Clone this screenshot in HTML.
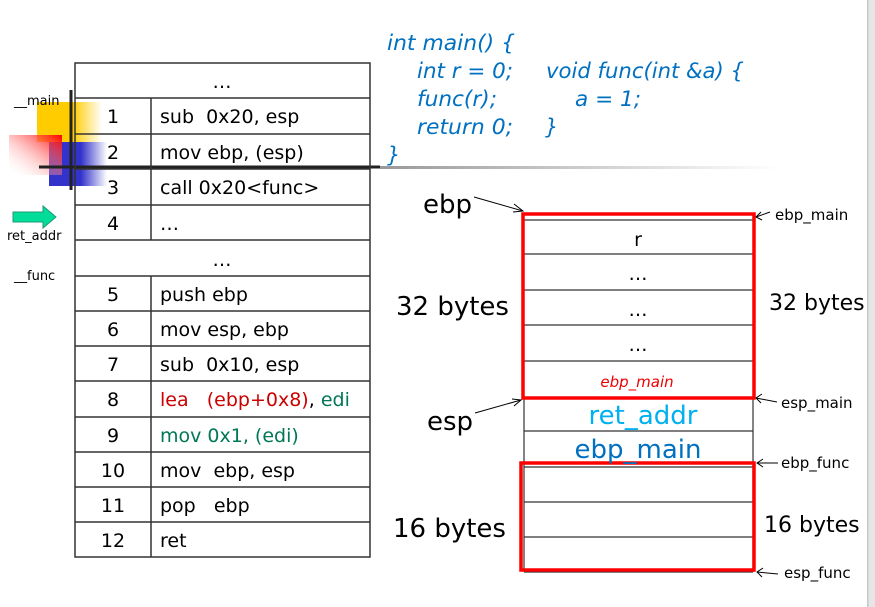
<!DOCTYPE html>
<html><head><meta charset="utf-8"><style>
html,body{margin:0;padding:0;background:#fff;}
svg{display:block;font-family:"DejaVu Sans","Liberation Sans",sans-serif;}
</style></head><body>
<svg width="875" height="607" viewBox="0 0 875 607" xmlns="http://www.w3.org/2000/svg">
<defs>
<linearGradient id="gy" x1="0" x2="1" y1="0" y2="0"><stop offset="0.55" stop-color="#ffcc00"/><stop offset="1" stop-color="#ffcc00" stop-opacity="0"/></linearGradient>
<linearGradient id="gb" x1="0" x2="1" y1="0" y2="0"><stop offset="0.55" stop-color="#3333cc"/><stop offset="1" stop-color="#3333cc" stop-opacity="0"/></linearGradient>
<linearGradient id="gr" x1="1" x2="0" y1="0" y2="1"><stop offset="0" stop-color="#ff0000"/><stop offset="1" stop-color="#ffffff" stop-opacity="0"/></linearGradient>
<linearGradient id="gl" x1="0" x2="1" y1="0" y2="0"><stop offset="0" stop-color="#999"/><stop offset="1" stop-color="#fff"/></linearGradient>
</defs>
<rect x="867" y="0" width="8" height="607" fill="#e6e6e6"/>
<rect x="867" y="0" width="1.5" height="607" fill="#c8c8c8"/>
<rect x="37" y="102" width="65" height="40" fill="url(#gy)"/>
<rect x="49" y="142" width="58" height="44" fill="url(#gb)"/>
<rect x="9" y="135" width="53" height="40" fill="url(#gr)"/>
<rect x="380" y="166" width="400" height="3" fill="url(#gl)"/>
<line x1="39" y1="167" x2="380" y2="167" stroke="#222" stroke-width="3"/>
<line x1="71" y1="90" x2="71" y2="190" stroke="#222" stroke-width="3"/>
<text x="14" y="105" font-size="13">__main</text>
<text x="7" y="240" font-size="13">ret_addr</text>
<text x="14" y="280" font-size="13">__func</text>
<polygon points="13,212 43,212 43,206 56,217 43,228 43,222 13,222" fill="#00dd99" stroke="#229977" stroke-width="1"/>
<g stroke="#333" stroke-width="1.5" fill="none">
<rect x="75" y="63" width="295" height="494"/>
<line x1="151" y1="98" x2="151" y2="240"/>
<line x1="151" y1="276" x2="151" y2="557"/>
<line x1="75" y1="98" x2="370" y2="98"/><line x1="75" y1="134" x2="370" y2="134"/>
<line x1="75" y1="169" x2="370" y2="169"/><line x1="75" y1="205" x2="370" y2="205"/>
<line x1="75" y1="240" x2="370" y2="240"/><line x1="75" y1="276" x2="370" y2="276"/>
<line x1="75" y1="311" x2="370" y2="311"/><line x1="75" y1="346" x2="370" y2="346"/>
<line x1="75" y1="381" x2="370" y2="381"/><line x1="75" y1="417" x2="370" y2="417"/>
<line x1="75" y1="452" x2="370" y2="452"/><line x1="75" y1="487" x2="370" y2="487"/>
<line x1="75" y1="522" x2="370" y2="522"/>
</g>
<g font-size="19" fill="#000">
<text x="222" y="88" text-anchor="middle">…</text>
<text x="222" y="266" text-anchor="middle">…</text>
<g text-anchor="middle">
<text x="113" y="123">1</text><text x="113" y="159">2</text><text x="113" y="194">3</text><text x="113" y="230">4</text>
<text x="113" y="301">5</text><text x="113" y="336">6</text><text x="113" y="371">7</text><text x="113" y="406">8</text>
<text x="113" y="442">9</text><text x="113" y="477">10</text><text x="113" y="512">11</text><text x="113" y="547">12</text>
</g>
<text x="160" y="123" xml:space="preserve">sub  0x20, esp</text>
<text x="160" y="159">mov ebp, (esp)</text>
<text x="160" y="194">call 0x20&lt;func&gt;</text>
<text x="160" y="230">…</text>
<text x="160" y="301">push ebp</text>
<text x="160" y="336">mov esp, ebp</text>
<text x="160" y="371" xml:space="preserve">sub  0x10, esp</text>
<text x="160" y="406" xml:space="preserve"><tspan fill="#cc0000">lea   (ebp+0x8)</tspan>, <tspan fill="#007755">edi</tspan></text>
<text x="160" y="442" fill="#007755">mov 0x1, (edi)</text>
<text x="160" y="477" xml:space="preserve">mov  ebp, esp</text>
<text x="160" y="512" xml:space="preserve">pop   ebp</text>
<text x="160" y="547">ret</text>
</g>
<g font-size="21" font-style="italic" fill="#0070c0">
<text x="387" y="50" textLength="128" lengthAdjust="spacingAndGlyphs">int main() {</text>
<text x="417" y="78" textLength="96" lengthAdjust="spacingAndGlyphs">int r = 0;</text>
<text x="546" y="78" textLength="198" lengthAdjust="spacingAndGlyphs">void func(int &amp;a) {</text>
<text x="417" y="106" textLength="80" lengthAdjust="spacingAndGlyphs">func(r);</text>
<text x="575" y="106" textLength="66" lengthAdjust="spacingAndGlyphs">a = 1;</text>
<text x="417" y="134" textLength="96" lengthAdjust="spacingAndGlyphs">return 0;</text>
<text x="545" y="134">}</text>
<text x="387" y="162">}</text>
</g>
<g stroke="#333" stroke-width="1.2" fill="none">
<line x1="524" y1="220" x2="753" y2="220"/><line x1="524" y1="254" x2="753" y2="254"/>
<line x1="524" y1="290" x2="753" y2="290"/><line x1="524" y1="325" x2="753" y2="325"/>
<line x1="524" y1="361" x2="753" y2="361"/>
<line x1="524" y1="397" x2="524" y2="572"/><line x1="753" y1="397" x2="753" y2="572"/>
<line x1="524" y1="431" x2="753" y2="431"/><line x1="524" y1="467" x2="753" y2="467"/>
<line x1="524" y1="502" x2="753" y2="502"/><line x1="524" y1="537" x2="753" y2="537"/>
<line x1="524" y1="572" x2="753" y2="572"/>
</g>
<rect x="523" y="214" width="231" height="184" fill="none" stroke="#ff0000" stroke-width="3.5"/>
<rect x="521" y="463" width="233" height="107" fill="none" stroke="#ff0000" stroke-width="3.5"/>
<g font-size="19" text-anchor="middle">
<text x="638" y="246">r</text><text x="638" y="280">…</text><text x="638" y="316">…</text><text x="638" y="351">…</text>
</g>
<text x="637" y="387" font-size="15" font-style="italic" fill="#ee0000" text-anchor="middle">ebp_main</text>
<text x="643" y="424" font-size="26" fill="#00b0f0" text-anchor="middle">ret_addr</text>
<text x="638" y="458" font-size="26" fill="#0070c0" text-anchor="middle">ebp_main</text>
<g font-size="26">
<text x="423" y="213">ebp</text>
<text x="427" y="430">esp</text>
<text x="396" y="315">32 bytes</text>
<text x="393" y="537">16 bytes</text>
</g>
<g font-size="22"><text x="769" y="310">32 bytes</text><text x="764" y="532">16 bytes</text></g>
<g font-size="15">
<text x="775" y="220">ebp_main</text>
<text x="781" y="408">esp_main</text>
<text x="781" y="468">ebp_func</text>
<text x="784" y="578">esp_func</text>
</g>
<g stroke="#000" stroke-width="1" fill="none">
<line x1="474" y1="197" x2="523" y2="211"/><polyline points="514,204 523,211 513,212"/>
<line x1="475" y1="413" x2="521" y2="400"/><polyline points="512,399 521,400 514,406"/>
<line x1="770" y1="212" x2="756" y2="217"/><polyline points="761,212 756,217 762,220"/>
<line x1="777" y1="402" x2="756" y2="398"/><polyline points="762,394 756,398 761,403"/>
<line x1="778" y1="463" x2="757" y2="463"/><polyline points="763,459 757,463 763,467"/>
<line x1="778" y1="574" x2="757" y2="572"/><polyline points="763,568 757,572 762,577"/>
</g>
</svg>
</body></html>
